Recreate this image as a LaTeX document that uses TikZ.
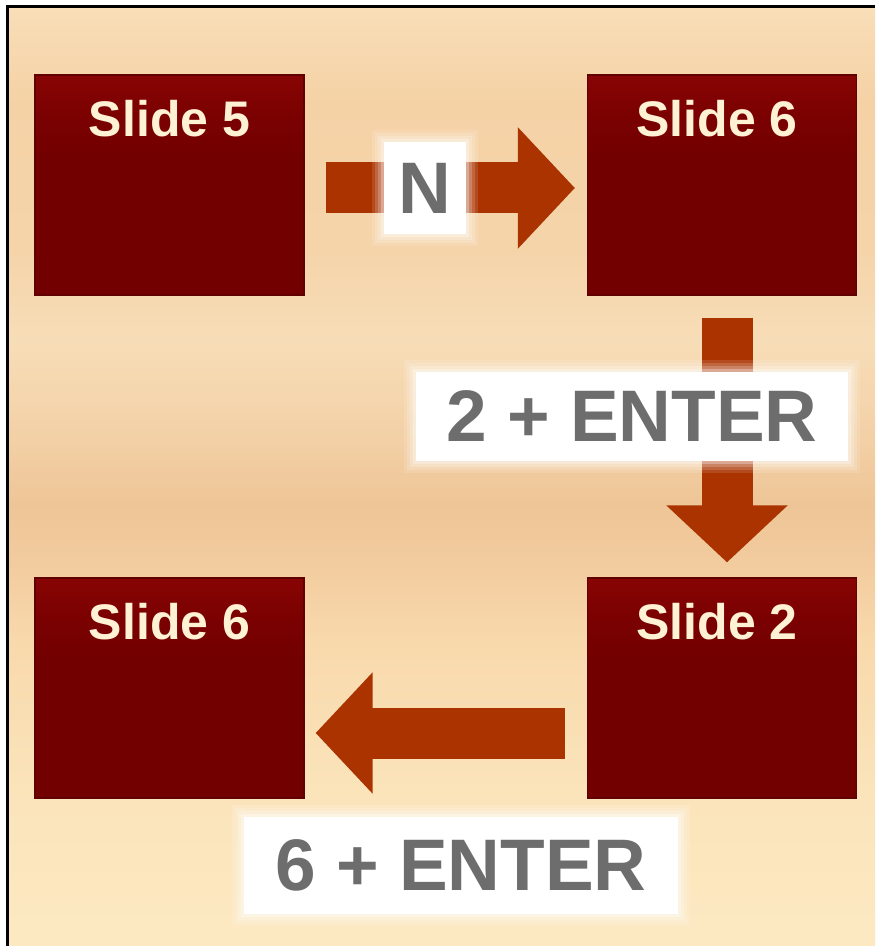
\documentclass[tikz,border=0pt]{standalone}
\usepackage{fontspec}
\setmainfont{Liberation Sans}
\usepackage{tikz}
\usetikzlibrary{arrows.meta}
\definecolor{paperA}{HTML}{FCE9C2}
\definecolor{paperB}{HTML}{FBE4BB}
\definecolor{paperC}{HTML}{F8D9AC}
\definecolor{paperD}{HTML}{F2CB9E}
\definecolor{paperE}{HTML}{EEC596}
\definecolor{paperF}{HTML}{F3D0A6}
\definecolor{paperG}{HTML}{F7DDB7}
\definecolor{paperH}{HTML}{F5D4AA}
\definecolor{paperI}{HTML}{F5D2A6}
\definecolor{paperJ}{HTML}{F9DEB8}
\definecolor{boxred}{HTML}{730000}
\definecolor{midred}{HTML}{7B0101}
\definecolor{headred}{HTML}{880404}
\definecolor{edgered}{HTML}{600000}
\definecolor{arrowred}{HTML}{AA3300}
\definecolor{keygray}{HTML}{6D6D6D}
\definecolor{cream}{HTML}{FFF1D4}
\pgfdeclareverticalshading{slideshade}{100bp}{color(0bp)=(boxred); color(57bp)=(boxred);
  color(66bp)=(midred); color(75bp)=(headred); color(100bp)=(headred)}
\pgfdeclareverticalshading{papershade}{100bp}{color(0bp)=(paperA); color(25bp)=(paperA);
  color(32.8bp)=(paperB); color(41.3bp)=(paperC); color(45.5bp)=(paperD); color(48.5bp)=(paperE);
  color(51.9bp)=(paperF); color(57.2bp)=(paperG); color(62bp)=(paperH); color(70bp)=(paperI);
  color(75bp)=(paperJ); color(100bp)=(paperJ)}
\tikzset{
  slidebox/.style={shading=slideshade, draw=edgered, line width=0.6pt,
    minimum width=134.5pt, minimum height=110pt, inner sep=0pt},
  slidelab/.style={text=cream, font=\bfseries\fontsize{25}{25}\selectfont, anchor=base},
  keylab/.style={fill=white, text=keygray, font=\bfseries\fontsize{36.5}{36.5}\selectfont, inner sep=0pt,
    preaction={draw=white, draw opacity=0.12, line width=12pt},
    preaction={draw=white, draw opacity=0.15, line width=9pt},
    preaction={draw=white, draw opacity=0.2, line width=6pt},
    preaction={draw=white, draw opacity=0.3, line width=3pt}},
  bigarrow/.style={draw=arrowred, line width=25.5pt, -{Triangle[length=28.5pt,width=59pt]}},
}
\begin{document}
\begin{tikzpicture}[x=0.5pt,y=-0.5pt]
\useasboundingbox (0,0) rectangle (875,946);
% paper and frame
\fill[white] (0,0) rectangle (875,946);
\shade[shading=papershade] (6,6) rectangle (875,946);
\draw[line width=1.5pt] (7,946) -- (7,7) -- (875,7);

% slides
\node[slidebox] (s5) at (169.5,185) {};
\node[slidebox] (s6) at (722,185) {};
\node[slidebox] (s6b) at (169.5,688) {};
\node[slidebox] (s2) at (722,688) {};
\node[slidelab] (t5) at ([yshift=-31pt]s5.north) {Slide 5};
\node[slidelab] (t6) at ([xshift=-2.5pt,yshift=-31pt]s6.north) {Slide 6};
\node[slidelab] (t6b) at ([yshift=-31pt]s6b.north) {Slide 6};
\node[slidelab] (t2) at ([xshift=-2.5pt,yshift=-31pt]s2.north) {Slide 2};

% moves
\draw[bigarrow, shorten <=10.5pt, shorten >=6pt] ([yshift=-1.5pt]s5.east) -- ([yshift=-1.5pt]s6.west);
\draw[bigarrow, shorten <=11pt, shorten >=7.5pt] ([xshift=2.5pt]s6.south) -- ([xshift=2.5pt]s2.north);
\draw[bigarrow, shorten <=11pt, shorten >=5.5pt] ([yshift=-22.5pt]s2.west) -- ([yshift=-22.5pt]s6b.east);

% keys
\node[keylab, minimum width=41pt, minimum height=46pt] (kN) at (425,188) {N};
\node[keylab, minimum width=216pt, minimum height=44.5pt] (k2) at (632,416.5) {2 + ENTER};
\node[keylab, minimum width=217pt, minimum height=48.5pt] (k6) at (461,865.5) {6 + ENTER};
\end{tikzpicture}
\end{document}
